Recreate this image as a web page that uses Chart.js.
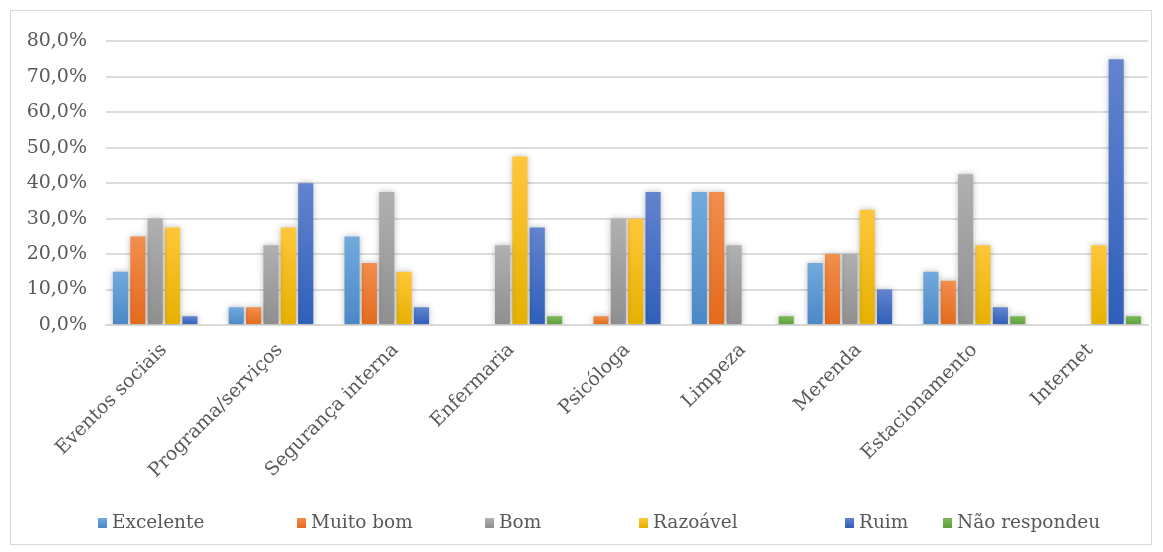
<!DOCTYPE html>
<html>
<head>
<meta charset="utf-8">
<script src="https://cdn.jsdelivr.net/npm/chart.js@4"></script>
<style>
  body { margin: 0; background: #fff; }
  #box { position: absolute; left: 10px; top: 10px; width: 1142px; height: 535px; border: 1px solid #d9d9d9; box-sizing: border-box; }
  #wrap { position: absolute; left: 0; top: 0; width: 1140px; height: 470px; }
  #legend { position: absolute; left: 0; top: 0; width: 1163px; height: 552px; pointer-events: none; }
  .item { position: absolute; top: 511px; font: 18.5px 'DejaVu Serif', serif; color: #595959; white-space: nowrap; }
  .item span.sw { display: inline-block; width: 9px; height: 10px; margin-right: 5px; vertical-align: 0px; }
</style>
</head>
<body>
<div id="box"><div id="wrap"><canvas id="myChart"></canvas></div></div>
<div id="legend"></div>
<script>
var categories = ['Eventos sociais', 'Programa/serviços', 'Segurança interna', 'Enfermaria', 'Psicóloga', 'Limpeza', 'Merenda', 'Estacionamento', 'Internet'];
var excelente    = [15, 5, 25, 0, 0, 37.5, 17.5, 15, 0];
var muitoBom     = [25, 5, 17.5, 0, 2.5, 37.5, 20, 12.5, 0];
var bom          = [30, 22.5, 37.5, 22.5, 30, 22.5, 20, 42.5, 0];
var razoavel     = [27.5, 27.5, 15, 47.5, 30, 0, 32.5, 22.5, 22.5];
var ruim         = [2.5, 40, 5, 27.5, 37.5, 0, 10, 5, 75];
var naoRespondeu = [0, 0, 0, 2.5, 0, 2.5, 0, 2.5, 2.5];
var yMax = 80;
var yStep = 10;

// top / bottom colours of each bar gradient
var colors = [
  ['#72aadd', '#4a88c6'],
  ['#f28e4e', '#e46a1c'],
  ['#b0b0b0', '#8f8f8f'],
  ['#ffc73a', '#e6b000'],
  ['#6384cf', '#2f5fba'],
  ['#7db95a', '#5f9e3a']
];

function grad(i) {
  return function(c) {
    var chart = c.chart;
    if (!chart.chartArea || c.raw === undefined) return colors[i][1];
    var y = chart.scales.y.getPixelForValue(c.raw);
    var g = chart.ctx.createLinearGradient(0, y, 0, chart.chartArea.bottom);
    g.addColorStop(0, colors[i][0]);
    g.addColorStop(1, colors[i][1]);
    return g;
  };
}

var shadow = {
  id: 'shadow',
  beforeDatasetsDraw: function(chart) {
    var ctx = chart.ctx;
    ctx.save();
    ctx.shadowColor = 'rgba(0,0,0,0.28)';
    ctx.shadowBlur = 6;
  },
  afterDatasetsDraw: function(chart) {
    chart.ctx.restore();
  }
};

var font = { family: "'DejaVu Serif', serif", size: 19 };

var ctx = document.getElementById('myChart').getContext('2d');
var myChart = new Chart(ctx, {
  type: 'bar',
  data: {
    labels: categories,
    datasets: [
      { label: 'Excelente', data: excelente, backgroundColor: grad(0) },
      { label: 'Muito bom', data: muitoBom, backgroundColor: grad(1) },
      { label: 'Bom', data: bom, backgroundColor: grad(2) },
      { label: 'Razoável', data: razoavel, backgroundColor: grad(3) },
      { label: 'Ruim', data: ruim, backgroundColor: grad(4) },
      { label: 'Não respondeu', data: naoRespondeu, backgroundColor: grad(5) }
    ]
  },
  options: {
    responsive: true,
    maintainAspectRatio: false,
    animation: false,
    categoryPercentage: 0.9,
    barPercentage: 0.87,
    layout: { padding: { top: 30, right: 3, left: 0, bottom: 0 } },
    plugins: {
      legend: { display: false },
      tooltip: { enabled: false }
    },
    scales: {
      x: {
        grid: { display: false },
        border: { color: '#d9d9d9', width: 2 },
        ticks: { color: '#595959', font: font, minRotation: 45, maxRotation: 45, padding: 6 },
        afterFit: function(s) { s.height = 156; }
      },
      y: {
        min: 0,
        max: yMax,
        grid: { color: '#dcdcdc', lineWidth: 2, drawTicks: false },
        border: { display: false },
        ticks: {
          stepSize: yStep,
          color: '#595959',
          font: font,
          padding: 19,
          callback: function(v) { return v.toFixed(1).replace('.', ',') + '%'; }
        },
        afterFit: function(s) { s.width = 95; }
      }
    }
  },
  plugins: [shadow]
});

// legend, placed like the original
var legendLeft = [98, 297, 485, 639, 845, 943];
var legend = document.getElementById('legend');
myChart.data.datasets.forEach(function(ds, i) {
  var el = document.createElement('div');
  el.className = 'item';
  el.style.left = legendLeft[i] + 'px';
  el.innerHTML = '<span class="sw" style="background:linear-gradient(' + colors[i][0] + ',' + colors[i][1] + ')"></span>' + ds.label;
  legend.appendChild(el);
});
</script>
</body>
</html>
